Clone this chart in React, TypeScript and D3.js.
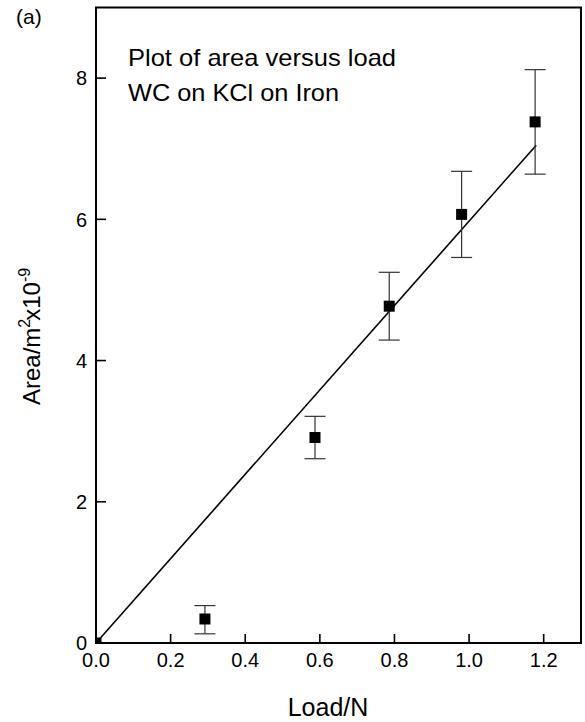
import React from "react";
import * as d3 from "d3";

const loads = [0, 0.292, 0.587, 0.786, 0.98, 1.177];
const areas = [0, 0.34, 2.91, 4.77, 6.07, 7.38];
const errLow = [0, 0.13, 2.61, 4.29, 5.46, 6.64];
const errHigh = [0, 0.53, 3.21, 5.25, 6.68, 8.12];
const fitX = [0, 1.18];
const fitY = [0, 7.05];
const xTicks = [0, 0.2, 0.4, 0.6, 0.8, 1.0, 1.2];
const yTicks = [0, 2, 4, 6, 8];
const titleLines = ["Plot of area versus load", "WC on KCl on Iron"];
const titleWidths = [268, 211];

const W = 585;
const H = 722;
const left = 96;
const right = 581;
const top = 7.5;
const bottom = 643;
const font = "'Liberation Sans', Arial, Helvetica, sans-serif";

export default function App() {
  const x = d3.scaleLinear().domain([0, 1.3]).range([left, right]);
  const y = d3.scaleLinear().domain([0, 9]).range([bottom, top]);
  const line = d3
    .line<number>()
    .x((_, i) => x(fitX[i]))
    .y((_, i) => y(fitY[i]));
  const ms = 11;
  const cap = 10.5;

  return (
    <svg
      width={W}
      height={H}
      style={{ position: "absolute", left: 0, top: 0, background: "#fff" }}
      fontFamily={font}
    >
      <rect x={0} y={0} width={W} height={H} fill="#fff" />
      <defs>
        <clipPath id="plotclip">
          <rect x={left} y={top} width={right - left} height={bottom - top} />
        </clipPath>
      </defs>

      {/* fit line */}
      <path d={line(fitX) || ""} fill="none" stroke="#000" strokeWidth={1.6} />

      {/* error bars */}
      {loads.map((l, i) =>
        errHigh[i] - errLow[i] > 0 ? (
          <g key={"e" + i} stroke="#333" strokeWidth={1.2}>
            <line x1={x(l)} x2={x(l)} y1={y(errLow[i])} y2={y(errHigh[i])} />
            <line x1={x(l) - cap} x2={x(l) + cap} y1={y(errLow[i])} y2={y(errLow[i])} />
            <line x1={x(l) - cap} x2={x(l) + cap} y1={y(errHigh[i])} y2={y(errHigh[i])} />
          </g>
        ) : null
      )}

      {/* markers */}
      <g clipPath="url(#plotclip)">
        {loads.map((l, i) => (
          <rect
            key={"m" + i}
            x={x(l) - ms / 2}
            y={y(areas[i]) - ms / 2}
            width={ms}
            height={ms}
            fill="#000"
          />
        ))}
      </g>

      {/* frame */}
      <rect
        x={left}
        y={top}
        width={right - left}
        height={bottom - top}
        fill="none"
        stroke="#000"
        strokeWidth={2}
      />

      {/* x ticks */}
      {xTicks.map((t) => (
        <g key={"xt" + t}>
          <line x1={x(t)} x2={x(t)} y1={bottom} y2={bottom - 9} stroke="#000" strokeWidth={1.6} />
          <text x={x(t)} y={667} textAnchor="middle" fontSize={20} fill="#000">
            {t.toFixed(1)}
          </text>
        </g>
      ))}

      {/* y ticks */}
      {yTicks.map((t) => (
        <g key={"yt" + t}>
          <line x1={left} x2={left + 10} y1={y(t)} y2={y(t)} stroke="#000" strokeWidth={1.6} />
          <text x={87} y={y(t)} dy="0.36em" textAnchor="end" fontSize={20} fill="#000">
            {t}
          </text>
        </g>
      ))}

      {/* axis labels */}
      <text x={328} y={716} textAnchor="middle" fontSize={25} fill="#000">
        Load/N
      </text>
      <text
        transform="translate(39.5,405) rotate(-90)"
        textAnchor="start"
        fontSize={24}
        fill="#000"
      >
        Area/m
        <tspan fontSize={16} dy={-10}>2</tspan>
        <tspan dy={10} dx={-2}>x10</tspan>
        <tspan fontSize={16} dy={-10}>-9</tspan>
      </text>

      {/* title */}
      {titleLines.map((s, i) => (
        <text
          key={"tl" + i}
          x={128}
          y={66 + i * 35}
          fontSize={24}
          fill="#000"
          textLength={titleWidths[i]}
          lengthAdjust="spacingAndGlyphs"
        >
          {s}
        </text>
      ))}

      <text x={16} y={24} fontSize={21} fill="#000">
        (a)
      </text>
    </svg>
  );
}
